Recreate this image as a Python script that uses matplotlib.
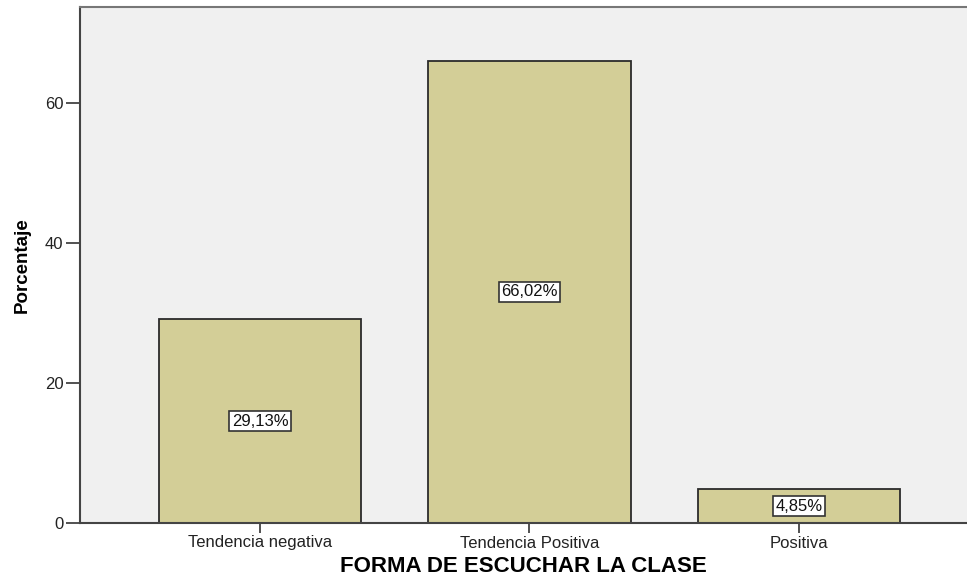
import matplotlib

matplotlib.use("Agg")
import matplotlib.pyplot as plt

categories = ["Tendencia negativa", "Tendencia Positiva", "Positiva"]
percentages = [29.13, 66.02, 4.85]
value_labels = ["29,13%", "66,02%", "4,85%"]
y_ticks = [0, 20, 40, 60]

plt.rcParams["font.family"] = ["Liberation Sans", "DejaVu Sans"]

fig = plt.figure(figsize=(9.67, 5.81), dpi=100)
ax = fig.add_axes([80 / 967, 58 / 581, 887 / 967, 516 / 581])
ax.set_facecolor("#F0F0F0")

x = list(range(len(categories)))
ax.bar(x, percentages, width=0.751, color="#D3CE97", edgecolor="#2b2b2b", linewidth=1.3, zorder=2)

for xi, val, lab in zip(x, percentages, value_labels):
    ax.text(xi, val / 2, lab, ha="center", va="center", fontsize=12, color="#111111", zorder=3,
            bbox=dict(boxstyle="square,pad=0.15", facecolor="white", edgecolor="#333333", linewidth=1.2))

ax.set_xlim(-0.669, 2.625)
ax.set_ylim(0, 73.7)
ax.set_xticks(x)
ax.set_xticklabels(categories, fontsize=12, color="#222222")
ax.set_yticks(y_ticks)
ax.set_yticklabels([str(t) for t in y_ticks], fontsize=12, color="#222222")
ax.tick_params(axis="y", length=10, width=1.2, color="#333333", pad=2)
ax.tick_params(axis="x", length=7, width=1.2, color="#333333", pad=2)

for side in ["left", "bottom"]:
    ax.spines[side].set_color("#444444")
    ax.spines[side].set_linewidth(1.5)
ax.spines["top"].set_color("#777777")
ax.spines["top"].set_linewidth(1.5)
ax.spines["right"].set_visible(False)

ax.set_xlabel("FORMA DE ESCUCHAR LA CLASE", fontsize=16, fontweight="bold", labelpad=4)
ax.set_ylabel("Porcentaje", fontsize=13.5, fontweight="bold", labelpad=10)

fig.savefig("out.png", dpi=100)
plt.close()
